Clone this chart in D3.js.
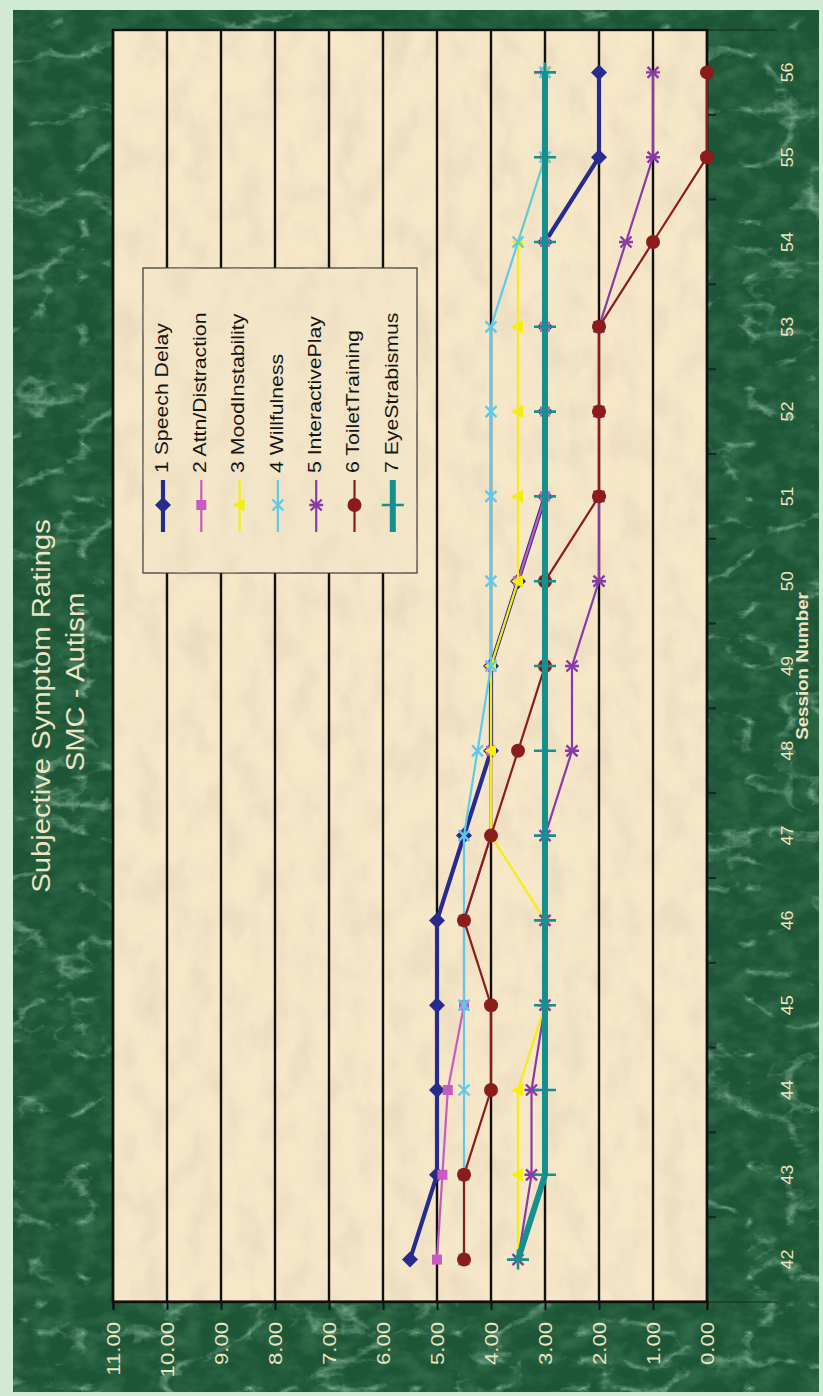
<!DOCTYPE html>
<html>
<head>
<meta charset="utf-8">
<script src="https://cdn.jsdelivr.net/npm/d3@7"></script>
<style>
  html, body { margin: 0; padding: 0; background: #d2ead4; }
  svg { display: block; }
  text { font-family: "Liberation Sans", Arial, sans-serif; }
</style>
</head>
<body>
<svg id="chart" width="823" height="1396"></svg>
<script>
// Session numbers along the category axis
const sessions = [42, 43, 44, 45, 46, 47, 48, 49, 50, 51, 52, 53, 54, 55, 56];

// Rating values per session, one array per symptom
const speechDelay     = [5.5, 5.0, 5.0, 5.0, 5.0, 4.5, 4.0, 4.0, 3.5, 3.0, 3.0, 3.0, 3.0, 2.0, 2.0];
const attnDistraction = [5.0, 4.9, 4.8, 4.5, 4.5, 4.0, 4.0, 4.0, 3.5, 3.0, 3.0, 3.0, 3.0, 3.0, 3.0];
const moodInstability = [3.5, 3.5, 3.5, 3.0, 3.0, 4.0, 4.0, 4.0, 3.5, 3.5, 3.5, 3.5, 3.5, 3.0, 3.0];
const willfulness     = [4.5, 4.5, 4.5, 4.5, 4.5, 4.5, 4.25, 4.0, 4.0, 4.0, 4.0, 4.0, 3.5, 3.0, 3.0];
const interactivePlay = [3.5, 3.25, 3.25, 3.0, 3.0, 3.0, 2.5, 2.5, 2.0, 2.0, 2.0, 2.0, 1.5, 1.0, 1.0];
const toiletTraining  = [4.5, 4.5, 4.0, 4.0, 4.5, 4.0, 3.5, 3.0, 3.0, 2.0, 2.0, 2.0, 1.0, 0.0, 0.0];
const eyeStrabismus   = [3.5, 3.0, 3.0, 3.0, 3.0, 3.0, 3.0, 3.0, 3.0, 3.0, 3.0, 3.0, 3.0, 3.0, 3.0];

// Series names as shown in the legend
const seriesNames = ["1 Speech Delay", "2 Attn/Distraction", "3 MoodInstability", "4 Willfulness",
                     "5 InteractivePlay", "6 ToiletTraining", "7 EyeStrabismus"];

// Value axis tick values
const valueTicks = [0, 1, 2, 3, 4, 5, 6, 7, 8, 9, 10, 11];

const titleLines = ["Subjective Symptom Ratings", "SMC - Autism"];
const xAxisTitle = "Session Number";

// ---- styling for each series ----
const seriesStyle = [
  { color: "#272b8e", width: 4.2, marker: "diamond" },
  { color: "#c95ac0", width: 2.2, marker: "square" },
  { color: "#f4ee10", width: 2.2, marker: "triangle" },
  { color: "#5fc9ec", width: 2.2, marker: "x" },
  { color: "#8a3aa6", width: 2.2, marker: "star" },
  { color: "#8c1c1c", width: 2.2, marker: "circle" },
  { color: "#16908f", width: 6,   marker: "plus" }
];
const seriesValues = [speechDelay, attnDistraction, moodInstability, willfulness,
                      interactivePlay, toiletTraining, eyeStrabismus];

const svg = d3.select("#chart");
const defs = svg.append("defs");

// Green marble texture: thin light veins over a dark mottled base
const marble = defs.append("filter").attr("id", "marble")
  .attr("x", 0).attr("y", 0).attr("width", "100%").attr("height", "100%");
marble.append("feTurbulence").attr("type", "turbulence")
  .attr("baseFrequency", "0.012 0.018").attr("numOctaves", 5).attr("seed", 11).attr("result", "n");
marble.append("feColorMatrix").attr("in", "n").attr("type", "matrix")
  .attr("values", "0 0 0 0 0.40  0 0 0 0 0.68  0 0 0 0 0.50  -3.2 0 0 0 0.62");

const marbleDark = defs.append("filter").attr("id", "marbleDark")
  .attr("x", 0).attr("y", 0).attr("width", "100%").attr("height", "100%");
marbleDark.append("feTurbulence").attr("type", "fractalNoise")
  .attr("baseFrequency", "0.04 0.06").attr("numOctaves", 4).attr("seed", 4).attr("result", "n");
marbleDark.append("feColorMatrix").attr("in", "n").attr("type", "matrix")
  .attr("values", "0 0 0 0 0.03  0 0 0 0 0.15  0 0 0 0 0.07  -2.2 0 0 0 1.35");

// Parchment texture for the plot area
const parch = defs.append("filter").attr("id", "parch")
  .attr("x", 0).attr("y", 0).attr("width", "100%").attr("height", "100%");
parch.append("feTurbulence").attr("type", "fractalNoise")
  .attr("baseFrequency", "0.025 0.04").attr("numOctaves", 4).attr("seed", 2).attr("result", "n");
parch.append("feColorMatrix").attr("in", "n").attr("type", "matrix")
  .attr("values", "0 0 0 0 0.80  0 0 0 0 0.68  0 0 0 0 0.50  1.5 0 0 0 -0.62");

// ---- page background ----
svg.append("rect").attr("width", 823).attr("height", 1396).attr("fill", "#d2ead4");
svg.append("rect").attr("x", 13).attr("y", 10).attr("width", 806).attr("height", 1382).attr("fill", "#1d5636");
svg.append("rect").attr("x", 13).attr("y", 10).attr("width", 806).attr("height", 1382)
  .attr("fill", "#000").attr("filter", "url(#marbleDark)");
svg.append("rect").attr("x", 13).attr("y", 10).attr("width", 806).attr("height", 1382)
  .attr("fill", "#fff").attr("filter", "url(#marble)");

// ---- chart drawn in its own frame, turned a quarter turn ----
const W = 1272, H = 594;
const g = svg.append("g").attr("transform", "translate(113,1302) rotate(-90)");

const x = d3.scaleBand().domain(sessions).range([0, W]).padding(0);
const y = d3.scaleLinear().domain([0, 11]).range([H, 0]);
const cx = d => x(d) + x.bandwidth() / 2;

const stretch = "scale(1.17,1)";

// plot area
g.append("rect").attr("width", W).attr("height", H).attr("fill", "#f6e7c9");
g.append("rect").attr("width", W).attr("height", H).attr("fill", "#fff").attr("filter", "url(#parch)");

// horizontal gridlines
g.append("g").selectAll("line").data(valueTicks).join("line")
  .attr("x1", 0).attr("x2", W)
  .attr("y1", d => y(d)).attr("y2", d => y(d))
  .attr("stroke", "#111").attr("stroke-width", 2.4);

g.append("rect").attr("width", W).attr("height", H)
  .attr("fill", "none").attr("stroke", "#111").attr("stroke-width", 2.4);

// value axis
const yAxis = g.append("g")
  .call(d3.axisLeft(y).tickValues(valueTicks).tickFormat(d3.format(".2f")).tickSize(8).tickPadding(9));
yAxis.select(".domain").attr("stroke", "#111").attr("stroke-width", 2);
yAxis.selectAll(".tick line").attr("stroke", "#111").attr("stroke-width", 2);
yAxis.selectAll(".tick text")
  .attr("fill", "#ede4c4").attr("font-size", 19).attr("dy", "0.36em")
  .attr("transform", stretch);

// category axis labels
const xAxis = g.append("g").attr("transform", `translate(0,${H})`)
  .call(d3.axisBottom(x).tickSize(0).tickPadding(0));
xAxis.select(".domain").remove();
xAxis.selectAll(".tick text")
  .attr("y", 80).attr("dy", "0.35em")
  .attr("fill", "#ede4c4").attr("font-size", 16)
  .attr("transform", "scale(1.12,1)");

// category boundary ticks
const bounds = sessions.map(s => x(s)).concat([W]);
g.append("g").selectAll("line").data(bounds).join("line")
  .attr("x1", d => d).attr("x2", d => d)
  .attr("y1", H).attr("y2", (d, i) => (i === 0 || i === bounds.length - 1) ? H + 70 : H + 9)
  .attr("stroke", "#0c2416").attr("stroke-width", (d, i) => (i === 0 || i === bounds.length - 1) ? 1 : 2)
  .attr("opacity", 0.85);

// axis title
g.append("text")
  .attr("transform", `translate(${W / 2},${H + 97}) ${stretch}`)
  .attr("text-anchor", "middle").attr("dominant-baseline", "middle")
  .attr("font-size", 16).attr("font-weight", "bold").attr("fill", "#ede4c4")
  .text(xAxisTitle);

// chart title
g.append("text")
  .attr("transform", `translate(596,-70) ${stretch}`)
  .attr("text-anchor", "middle").attr("dominant-baseline", "middle")
  .attr("font-size", 25).attr("fill", "#ede4c4").text(titleLines[0]);
g.append("text")
  .attr("transform", `translate(620,-36) ${stretch}`)
  .attr("text-anchor", "middle").attr("dominant-baseline", "middle")
  .attr("font-size", 25).attr("fill", "#ede4c4").text(titleLines[1]);

// ---- marker shapes ----
function drawMarker(sel, type, color) {
  if (type === "diamond") {
    sel.append("path").attr("d", "M0,-8L8,0L0,8L-8,0Z").attr("fill", color);
  } else if (type === "square") {
    sel.append("rect").attr("x", -5).attr("y", -5).attr("width", 10).attr("height", 10).attr("fill", color);
  } else if (type === "triangle") {
    sel.append("path").attr("d", "M0,-7L6.5,5L-6.5,5Z").attr("fill", color);
  } else if (type === "x") {
    sel.append("path").attr("d", "M-5.5,-5.5L5.5,5.5M-5.5,5.5L5.5,-5.5")
      .attr("stroke", color).attr("stroke-width", 2.4);
  } else if (type === "star") {
    sel.append("path").attr("d", "M-5.5,-5.5L5.5,5.5M-5.5,5.5L5.5,-5.5M0,-7L0,7")
      .attr("stroke", color).attr("stroke-width", 2.4);
  } else if (type === "circle") {
    sel.append("circle").attr("r", 7).attr("fill", color);
  } else if (type === "plus") {
    sel.append("path").attr("d", "M-10,0L10,0M0,-11L0,11")
      .attr("stroke", color).attr("stroke-width", 2.6);
  }
}

// ---- series ----
const line = d3.line().x(d => cx(d.s)).y(d => y(d.v));
seriesValues.forEach((vals, i) => {
  const st = seriesStyle[i];
  const pts = sessions.map((s, k) => ({ s, v: vals[k] }));
  const sg = g.append("g");
  sg.append("path").datum(pts).attr("d", line)
    .attr("fill", "none").attr("stroke", st.color).attr("stroke-width", st.width)
    .attr("stroke-linejoin", "round");
  sg.selectAll("g.m").data(pts).join("g").attr("class", "m")
    .attr("transform", d => `translate(${cx(d.s)},${y(d.v)})`)
    .each(function () { drawMarker(d3.select(this), st.marker, st.color); });
});

// ---- legend ----
const lg = g.append("g").attr("transform", "translate(729,30)");
lg.append("rect").attr("width", 305).attr("height", 274)
  .attr("fill", "#f4e6c9").attr("stroke", "#333").attr("stroke-width", 1.2);
lg.append("rect").attr("x", 0.6).attr("y", 0.6).attr("width", 303.8).attr("height", 272.8)
  .attr("fill", "#fff").attr("filter", "url(#parch)").attr("opacity", 0.7);
const items = lg.selectAll("g.item").data(seriesNames).join("g").attr("class", "item")
  .attr("transform", (d, i) => `translate(0,${20 + i * 38.3})`);
items.append("line").attr("x1", 41).attr("x2", 93)
  .attr("stroke", (d, i) => seriesStyle[i].color)
  .attr("stroke-width", (d, i) => seriesStyle[i].width);
items.append("g").attr("transform", "translate(68,0)")
  .each(function (d, i) { drawMarker(d3.select(this), seriesStyle[i].marker, seriesStyle[i].color); });
items.append("text")
  .attr("transform", `translate(100,0) scale(1.18,1)`)
  .attr("dominant-baseline", "middle").attr("font-size", 18).attr("fill", "#151515")
  .text(d => d);
</script>
</body>
</html>
